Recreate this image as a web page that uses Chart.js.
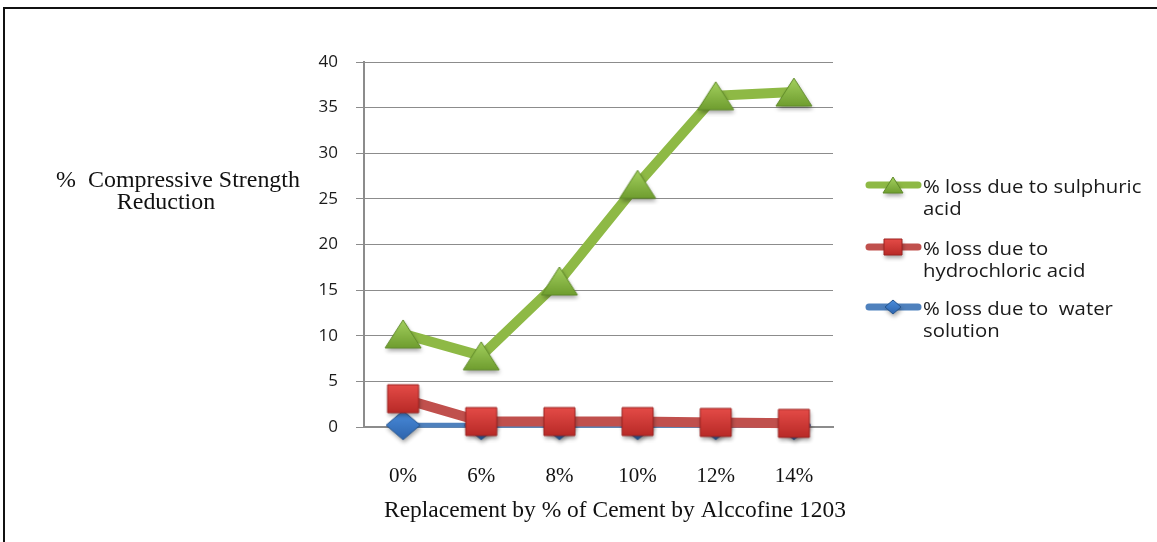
<!DOCTYPE html>
<html>
<head>
<meta charset="utf-8">
<title>Compressive strength reduction</title>
<script src="https://cdn.jsdelivr.net/npm/chart.js@4.4.1/dist/chart.umd.min.js"></script>
<style>
  html, body { margin: 0; padding: 0; background: #fff; }
  #wrap { position: relative; width: 1157px; height: 542px; overflow: hidden; }
  #frame { position: absolute; left: 3px; top: 7px; right: -10px; bottom: -10px;
           border-top: 2px solid #111; border-left: 2px solid #111; }
  #chart { position: absolute; left: 0; top: 0; }
</style>
</head>
<body>
<div id="wrap">
  <div id="frame"></div>
  <canvas id="chart" width="1157" height="542"></canvas>
</div>
<script>
// replacement levels and the strength loss for each exposure
const categories = ['0%', '6%', '8%', '10%', '12%', '14%'];
const sulphuricLoss = [10.2, 7.8, 16.0, 26.6, 36.3, 36.7];
const hydrochloricLoss = [3.1, 0.6, 0.6, 0.6, 0.5, 0.4];
const waterLoss = [0.2, 0.2, 0.2, 0.2, 0.2, 0.2];

const yMin = 0;
const yMax = 40;
const yStep = 5;

const legendLabels = [
    ['% loss due to sulphuric', 'acid'],
    ['% loss due to', 'hydrochloric acid'],
    ['% loss due to  water', 'solution']
];
const xTitle = 'Replacement by % of Cement by Alccofine 1203';
const yTitle = ['%  Compressive Strength', 'Reduction'];

const SANS = "'Open Sans', 'DejaVu Sans', sans-serif";
const SERIF = "'Liberation Serif', 'DejaVu Serif', serif";

// small canvases used as point markers (gradient fill + soft shadow)
function makeMarker(shape, w, h, light, dark, edge) {
    const pad = 7;
    const c = document.createElement('canvas');
    c.width = w + pad * 2;
    c.height = h + pad * 2;
    const g = c.getContext('2d');
    g.beginPath();
    if (shape === 'triangle') {
        g.moveTo(pad + w / 2, pad);
        g.lineTo(pad + w, pad + h);
        g.lineTo(pad, pad + h);
    } else if (shape === 'square') {
        g.rect(pad, pad, w, h);
    } else {
        g.moveTo(pad + w / 2, pad);
        g.lineTo(pad + w, pad + h / 2);
        g.lineTo(pad + w / 2, pad + h);
        g.lineTo(pad, pad + h / 2);
    }
    g.closePath();
    const grad = g.createLinearGradient(0, pad, 0, pad + h);
    grad.addColorStop(0, light);
    grad.addColorStop(1, dark);
    g.shadowColor = 'rgba(0,0,0,0.35)';
    g.shadowBlur = 4;
    g.shadowOffsetX = 1;
    g.shadowOffsetY = 3;
    g.fillStyle = grad;
    g.fill();
    g.shadowColor = 'transparent';
    g.strokeStyle = edge;
    g.lineWidth = 1;
    g.stroke();
    return c;
}

const greenTri = makeMarker('triangle', 36, 28, '#a3d05e', '#6f9d2f', '#5f8a28');
const redSq = makeMarker('square', 31, 28, '#e44b47', '#b82a27', '#9c2220');
const blueDia = makeMarker('diamond', 34, 29, '#4a8ddc', '#2d64ad', '#24548f');

const greenTriSm = makeMarker('triangle', 20, 16, '#a3d05e', '#6f9d2f', '#5f8a28');
const redSqSm = makeMarker('square', 18, 16, '#e44b47', '#b82a27', '#9c2220');
const blueDiaSm = makeMarker('diamond', 16, 14, '#4a8ddc', '#2d64ad', '#24548f');

const lineColors = ['#8eb945', '#c0504d', '#4f81bd'];
const legendMarkers = [greenTriSm, redSqSm, blueDiaSm];

// text stretched a little sideways
function wideText(ctx, text, x, y, sx) {
    ctx.save();
    ctx.translate(x, y);
    ctx.scale(sx, 1);
    ctx.fillText(text, 0, 0);
    ctx.restore();
}

// axis titles and the two-line legend on the right
const textPlugin = {
    id: 'textPlugin',
    afterDraw(chart) {
        const ctx = chart.ctx;
        ctx.save();
        ctx.fillStyle = '#111';
        ctx.textBaseline = 'alphabetic';
        ctx.textAlign = 'center';
        ctx.font = '23px ' + SERIF;
        wideText(ctx, xTitle, 615, 517, 1.02);
        wideText(ctx, yTitle[0], 178, 187, 1.04);
        wideText(ctx, yTitle[1], 166, 209, 1.04);

        const rows = [185, 247, 307];
        ctx.textAlign = 'left';
        ctx.font = '18px ' + SANS;
        rows.forEach((y, i) => {
            ctx.strokeStyle = lineColors[i];
            ctx.lineWidth = 7;
            ctx.lineCap = 'round';
            ctx.beginPath();
            ctx.moveTo(869, y);
            ctx.lineTo(918, y);
            ctx.stroke();
            const m = legendMarkers[i];
            ctx.drawImage(m, 893 - m.width / 2, y - m.height / 2);
            ctx.fillStyle = '#1a1a1a';
            wideText(ctx, legendLabels[i][0], 923, y + 8, 1.13);
            wideText(ctx, legendLabels[i][1], 923, y + 30, 1.13);
        });
        ctx.restore();
    }
};

const ctx = document.getElementById('chart').getContext('2d');

const lossChart = new Chart(ctx, {
    type: 'line',
    data: {
        labels: categories,
        datasets: [{
            label: legendLabels[0].join(' '),
            data: sulphuricLoss,
            borderColor: lineColors[0],
            borderWidth: 10,
            pointStyle: greenTri,
            pointRadius: 18,
            clip: false
        },
        {
            label: legendLabels[1].join(' '),
            data: hydrochloricLoss,
            borderColor: lineColors[1],
            borderWidth: 10,
            pointStyle: redSq,
            pointRadius: 16,
            clip: false
        },
        {
            label: legendLabels[2].join(' '),
            data: waterLoss,
            borderColor: lineColors[2],
            borderWidth: 5,
            pointStyle: blueDia,
            pointRadius: 16,
            clip: false
        }]
    },
    options: {
        responsive: false,
        animation: false,
        events: [],
        layout: {
            padding: { top: 62, right: 324, left: 0, bottom: 0 }
        },
        elements: {
            line: { tension: 0, borderJoinStyle: 'round', borderCapStyle: 'round' }
        },
        scales: {
            x: {
                type: 'category',
                offset: true,
                afterFit: function (scale) { scale.height = 115; },
                grid: {
                    display: true,
                    drawOnChartArea: false,
                    drawTicks: true,
                    tickLength: 5,
                    color: '#8c8c8c'
                },
                border: { display: true, color: '#8c8c8c', width: 2 },
                ticks: {
                    padding: 32,
                    color: '#111',
                    font: { family: SERIF, size: 21 },
                    maxRotation: 0
                }
            },
            y: {
                min: yMin,
                max: yMax,
                afterFit: function (scale) { scale.width = 364; },
                grid: {
                    color: '#8c8c8c',
                    lineWidth: 1,
                    tickLength: 8
                },
                border: { display: true, color: '#8c8c8c', width: 2 },
                ticks: {
                    stepSize: yStep,
                    padding: 18,
                    color: '#1a1a1a',
                    font: { family: SANS, size: 17 }
                }
            }
        },
        plugins: {
            legend: { display: false },
            tooltip: { enabled: false }
        }
    },
    plugins: [textPlugin]
});
</script>
</body>
</html>
